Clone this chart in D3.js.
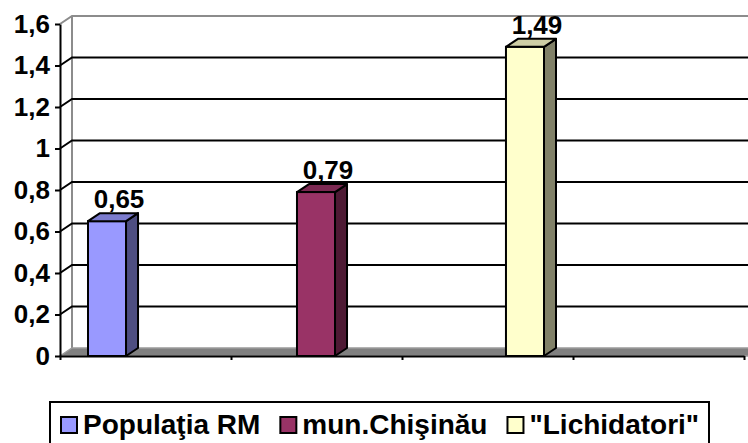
<!DOCTYPE html>
<html>
<head>
<meta charset="utf-8">
<script src="https://cdn.jsdelivr.net/npm/d3@7"></script>
<style>
	body { margin: 0; background: #fff; }
	svg { display: block; font-family: Arial, 'Liberation Sans', sans-serif; }
</style>
</head>
<body>
<div id="chart"></div>
<script>
const series = ['Populaţia RM', 'mun.Chişinău', '"Lichidatori"'];
const values = [0.65, 0.79, 1.49];
const yTicks = [0, 0.2, 0.4, 0.6, 0.8, 1, 1.2, 1.4, 1.6];
const xDivisions = [0, 1, 2, 3, 4];

const width = 748;
const height = 443;
const depth = { dx: 12, dy: 8 };

const locale = d3.formatLocale({ decimal: ',', thousands: ' ', grouping: [3], currency: ['', ''] });
const fmt = locale.format('~g');

const color = d3.scaleOrdinal()
	.domain(series)
	.range(['#9999ff', '#993366', '#ffffcc']);

const svg = d3.select('#chart')
	.append('svg')
	.attr('width', width)
	.attr('height', height);

const y = d3.scaleLinear()
	.domain([0, 1.6])
	.range([356, 24]);

const xDiv = d3.scaleLinear()
	.domain([0, 4])
	.range([60, 744]);

// bars sit in one category, spread across the floor
const x = d3.scaleBand()
	.domain(series)
	.range([88, 544])
	.paddingInner(0.818)
	.paddingOuter(0);

const x0 = xDiv.range()[0];
const y0 = y(0);
const yTop = y(1.6);

// back wall + left wall
let walls = svg.append('g').attr('class', 'walls');

walls.append('line')
	.attr('x1', x0 + depth.dx).attr('x2', x0 + depth.dx)
	.attr('y1', yTop - depth.dy).attr('y2', y0 - depth.dy)
	.attr('stroke', '#8c8c8c').attr('stroke-width', 2);

walls.selectAll('.grid')
	.data(yTicks.filter((d) => d > 0))
	.enter()
	.append('path')
	.attr('class', 'grid')
	.attr('fill', 'none')
	.attr('stroke', (d) => d === 1.6 ? '#8c8c8c' : '#000')
	.attr('stroke-width', 2)
	.attr('d', (d) => `M${x0},${y(d)} L${x0 + depth.dx},${y(d) - depth.dy} L${width},${y(d) - depth.dy}`);

// floor
svg.append('path')
	.attr('d', `M${x0},${y0} L${x0 + depth.dx},${y0 - depth.dy} L${width + 5},${y0 - depth.dy} L${width + 5},${y0} Z`)
	.attr('fill', '#808080')
	.attr('stroke', '#9a9a9a')
	.attr('stroke-width', 1.5);

// 3d columns
let bars = svg.append('g').attr('class', 'bars')
	.selectAll('g')
	.data(series.map((s, i) => ({ label: s, value: values[i] })))
	.enter()
	.append('g');

bars.append('rect')
	.attr('x', (d) => x(d.label))
	.attr('y', (d) => y(d.value))
	.attr('width', x.bandwidth())
	.attr('height', (d) => y0 - y(d.value))
	.attr('fill', (d) => color(d.label))
	.attr('stroke', '#000')
	.attr('stroke-width', 2);

bars.append('path')
	.attr('d', (d) => {
		let r = x(d.label) + x.bandwidth();
		let t = y(d.value);
		return `M${r},${t} L${r + depth.dx},${t - depth.dy} L${r + depth.dx},${y0 - depth.dy} L${r},${y0} Z`;
	})
	.attr('fill', (d) => d3.color(color(d.label)).darker(1.9))
	.attr('stroke', '#000')
	.attr('stroke-width', 2)
	.attr('stroke-linejoin', 'round');

bars.append('path')
	.attr('d', (d) => {
		let l = x(d.label);
		let r = l + x.bandwidth();
		let t = y(d.value);
		return `M${l},${t} L${l + depth.dx},${t - depth.dy} L${r + depth.dx},${t - depth.dy} L${r},${t} Z`;
	})
	.attr('fill', (d) => d3.color(color(d.label)).darker(0.6))
	.attr('stroke', '#000')
	.attr('stroke-width', 2)
	.attr('stroke-linejoin', 'round');

bars.append('text')
	.attr('x', (d) => x(d.label) + x.bandwidth() / 2 + 12)
	.attr('y', (d) => y(d.value) - 13)
	.attr('text-anchor', 'middle')
	.attr('font-size', 26)
	.attr('font-weight', 'bold')
	.attr('fill', '#000')
	.text((d) => fmt(d.value));

// axes
let yAxis = svg.append('g')
	.attr('transform', `translate(${x0},0)`)
	.call(d3.axisLeft(y).tickValues(yTicks).tickSize(5).tickSizeOuter(0).tickPadding(5).tickFormat(fmt));

yAxis.selectAll('text')
	.attr('font-size', 26)
	.attr('font-weight', 'bold')
	.attr('font-family', 'Arial, Liberation Sans, sans-serif')
	.attr('fill', '#000');

let xAxis = svg.append('g')
	.attr('transform', `translate(0,${y0})`)
	.call(d3.axisBottom(xDiv).tickValues(xDivisions).tickSize(4).tickSizeOuter(0).tickFormat(''));

svg.selectAll('.domain, .tick line')
	.attr('stroke', '#000')
	.attr('stroke-width', 2);

// legend
let legend = svg.append('g').attr('class', 'legend');

legend.append('rect')
	.attr('x', 50)
	.attr('y', 402)
	.attr('width', 659)
	.attr('height', 60)
	.attr('fill', '#fff')
	.attr('stroke', '#000')
	.attr('stroke-width', 2);

let cursor = 61;
series.forEach((s) => {
	legend.append('rect')
		.attr('x', cursor)
		.attr('y', 417)
		.attr('width', 16)
		.attr('height', 16)
		.attr('fill', color(s))
		.attr('stroke', '#000')
		.attr('stroke-width', 2);

	let t = legend.append('text')
		.attr('x', cursor + 22)
		.attr('y', 434)
		.attr('font-size', 28)
		.attr('font-weight', 'bold')
		.attr('fill', '#000')
		.text(s);

	cursor += 22 + t.node().getComputedTextLength() + 20;
});
</script>
</body>
</html>
